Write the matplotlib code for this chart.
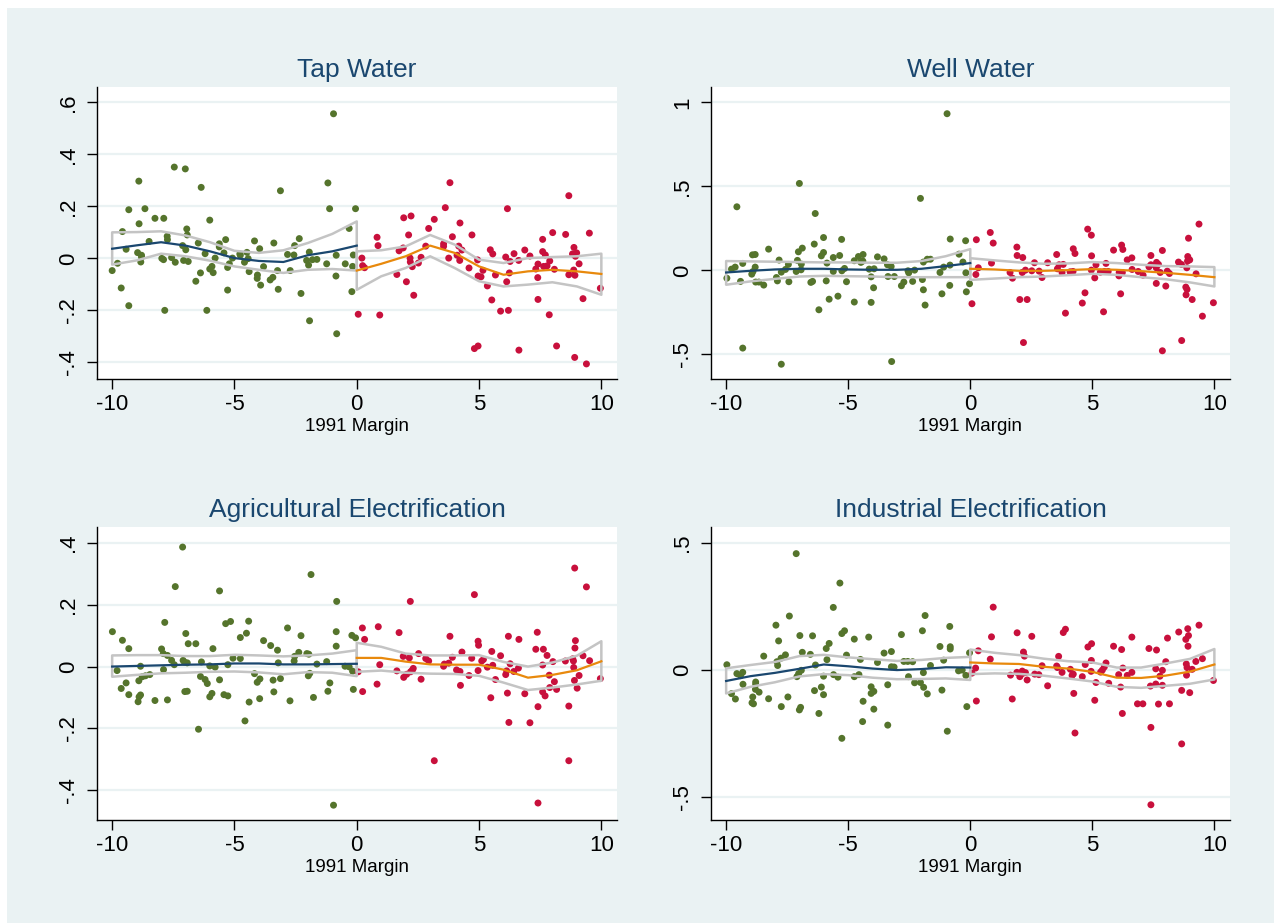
import matplotlib
matplotlib.use('Agg')
import matplotlib.pyplot as plt
import numpy as np

plt.rcParams['font.family'] = ['Liberation Sans', 'DejaVu Sans']

# grid of x values where the local fits and bands are evaluated
xl = np.arange(-10, 1)
xr = np.arange(0, 11)

# ---------------- Tap Water ----------------
tap_left = [(-0.95, 0.556), (-7.46, 0.351), (-7.01, 0.344), (-8.91, 0.297), (-6.36, 0.273), (-3.12, 0.260),
            (-1.18, 0.290), (-9.32, 0.187), (-8.66, 0.191), (-1.11, 0.191), (-0.05, 0.191), (-8.90, 0.133),
            (-8.25, 0.154), (-7.89, 0.154), (-6.01, 0.147), (-9.58, 0.103), (-6.95, 0.113), (-6.93, 0.090),
            (-7.75, 0.085), (-7.74, 0.072), (-8.49, 0.065), (-9.43, 0.035), (-8.96, 0.022), (-8.80, 0.012),
            (-8.80, 0.005), (-8.83, -0.014), (-9.78, -0.019), (-10.0, -0.047), (-7.97, 0.0), (-7.90, -0.005),
            (-7.57, 0.003), (-7.42, -0.015), (-7.12, 0.049), (-6.99, 0.033), (-7.08, -0.008), (-6.89, -0.012),
            (-6.48, 0.059), (-6.20, 0.018), (-5.79, 0.001), (-5.62, 0.056), (-5.62, 0.044), (-5.36, 0.072),
            (-5.43, 0.021), (-5.08, 0.001), (-4.78, 0.017), (-4.76, 0.012), (-4.49, 0.023), (-4.44, -0.001),
            (-4.59, -0.015), (-4.18, 0.067), (-3.97, 0.037), (-3.39, 0.059), (-2.35, 0.076), (-2.54, 0.049),
            (-2.83, 0.015), (-2.57, 0.013), (-1.94, 0.024), (-2.05, -0.008), (-1.81, -0.005), (-1.63, -0.004),
            (-1.97, -0.026), (-1.23, -0.021), (-0.84, 0.012), (-0.31, 0.115), (-0.14, 0.013), (-0.47, -0.021),
            (-0.17, -0.031), (-6.39, -0.056), (-6.01, -0.041), (-5.92, -0.031), (-5.87, -0.055), (-5.28, -0.035),
            (-5.21, -0.021), (-4.40, -0.051), (-4.06, -0.064), (-4.07, -0.077), (-3.93, -0.103), (-3.81, -0.032),
            (-3.54, -0.083), (-3.43, -0.073), (-3.24, -0.047), (-2.72, -0.047), (-3.21, -0.119), (-5.28, -0.122),
            (-6.58, -0.088), (-9.63, -0.114), (-9.32, -0.182), (-7.85, -0.200), (-6.13, -0.200), (-2.28, -0.135),
            (-1.93, -0.240), (-0.82, -0.290), (-0.85, -0.068), (-0.20, -0.128)]
tap_right = [(3.81, 0.291), (8.67, 0.241), (3.62, 0.195), (6.16, 0.191), (1.92, 0.156), (2.22, 0.163),
             (3.17, 0.150), (4.22, 0.136), (2.94, 0.115), (4.71, 0.090), (8.01, 0.099), (8.54, 0.092),
             (9.51, 0.097), (7.60, 0.073), (2.12, 0.090), (3.91, 0.083), (0.83, 0.081), (0.87, 0.049),
             (3.55, 0.056), (3.55, 0.046), (4.17, 0.047), (4.30, 0.032), (1.90, 0.040), (1.73, 0.029),
             (2.82, 0.047), (5.46, 0.033), (5.56, 0.017), (6.87, 0.032), (6.43, 0.018), (7.08, 0.009),
             (7.60, 0.026), (7.71, 0.013), (8.88, 0.042), (8.82, 0.017), (8.99, 0.021), (8.94, 0.008),
             (4.10, 0.012), (3.76, 0.001), (4.21, -0.008), (2.63, 0.004), (2.18, 0.001), (2.19, -0.014),
             (2.27, -0.032), (2.52, -0.018), (0.21, 0.001), (0.24, -0.028), (0.32, -0.036), (4.94, -0.006),
             (5.16, -0.046), (6.09, 0.005), (6.27, -0.012), (6.62, -0.008), (7.41, -0.022), (7.32, -0.041),
             (7.64, -0.031), (7.78, -0.029), (7.89, -0.010), (8.08, -0.042), (9.09, -0.021), (8.87, -0.045),
             (8.67, -0.063), (8.92, -0.065), (4.59, -0.037), (4.96, -0.068), (5.08, -0.071), (5.67, -0.064),
             (6.24, -0.056), (6.13, -0.090), (7.40, -0.074), (5.34, -0.106), (1.64, -0.062), (2.03, -0.090),
             (2.33, -0.142), (5.52, -0.160), (7.41, -0.158), (9.25, -0.155), (9.96, -0.115), (0.06, -0.215),
             (0.94, -0.218), (5.88, -0.203), (6.20, -0.200), (7.87, -0.217), (4.81, -0.347), (4.96, -0.337),
             (6.63, -0.353), (8.17, -0.337), (8.91, -0.381), (9.39, -0.406)]
tap_fit_l = [0.037, 0.050, 0.062, 0.049, 0.027, 0.001, -0.010, -0.014, 0.012, 0.027, 0.049]
tap_hi_l = [0.100, 0.101, 0.104, 0.088, 0.062, 0.029, 0.021, 0.031, 0.059, 0.094, 0.142]
tap_lo_l = [-0.024, -0.008, 0.018, 0.008, -0.009, -0.031, -0.044, -0.056, -0.044, -0.041, -0.047]
tap_fit_r = [-0.047, -0.021, 0.008, 0.049, 0.021, -0.031, -0.063, -0.050, -0.044, -0.050, -0.060]
tap_hi_r = [0.027, 0.031, 0.046, 0.090, 0.053, -0.005, -0.018, 0.001, 0.005, 0.008, 0.018]
tap_lo_r = [-0.121, -0.069, -0.037, 0.008, -0.037, -0.088, -0.108, -0.101, -0.092, -0.108, -0.140]

# ---------------- Well Water ----------------
well_left = [(-0.95, 0.933), (-7.0, 0.518), (-9.56, 0.379), (-6.35, 0.339), (-2.04, 0.429), (-6.01, 0.196),
             (-6.39, 0.157), (-5.27, 0.185), (-0.82, 0.187), (-0.19, 0.177), (-8.26, 0.127), (-8.92, 0.093),
             (-8.81, 0.095), (-7.04, 0.111), (-6.88, 0.133), (-6.10, 0.087), (-6.01, 0.107), (-5.61, 0.077),
             (-5.35, 0.089), (-7.83, 0.062), (-9.32, 0.042), (-9.78, 0.008), (-9.63, 0.020), (-9.97, -0.046),
             (-9.41, -0.065), (-8.81, 0.020), (-8.95, -0.022), (-8.90, -0.006), (-8.79, -0.069), (-8.66, -0.069),
             (-8.46, -0.087), (-7.94, -0.042), (-7.90, -0.062), (-7.74, -0.010), (-7.57, 0.006), (-7.45, 0.036),
             (-7.43, -0.067), (-7.08, 0.060), (-6.92, 0.038), (-7.13, -0.006), (-6.93, 0.004), (-6.53, -0.071),
             (-6.46, -0.065), (-5.87, 0.044), (-5.90, -0.062), (-5.61, -0.006), (-5.26, -0.002), (-5.15, 0.012),
             (-5.07, -0.067), (-4.75, 0.058), (-4.58, 0.083), (-4.39, 0.095), (-4.48, 0.048), (-4.40, 0.056),
             (-4.14, 0.008), (-3.94, 0.010), (-3.80, 0.081), (-3.53, 0.069), (-3.39, 0.034), (-3.24, 0.024),
             (-4.06, -0.038), (-3.96, -0.103), (-3.37, -0.036), (-3.11, -0.036), (-2.82, -0.091), (-2.72, -0.069),
             (-2.55, -0.002), (-2.52, -0.014), (-2.36, -0.065), (-2.28, 0.002), (-1.92, 0.050), (-1.76, 0.067),
             (-1.63, 0.067), (-1.96, -0.054), (-1.92, -0.115), (-1.85, -0.206), (-1.24, -0.012), (-1.09, 0.020),
             (-0.83, 0.032), (-0.46, 0.097), (-0.30, 0.050), (-0.18, -0.014), (-1.16, -0.139), (-0.84, -0.089),
             (-0.16, -0.127), (-0.03, -0.079), (-5.78, -0.171), (-5.42, -0.153), (-6.20, -0.234), (-4.75, -0.188),
             (-4.06, -0.190), (-9.32, -0.462), (-7.74, -0.558), (-3.22, -0.542)]
well_right = [(9.37, 0.276), (4.81, 0.246), (4.96, 0.210), (0.82, 0.226), (0.94, 0.163), (0.25, 0.183),
              (8.94, 0.192), (1.91, 0.139), (1.92, 0.089), (2.15, 0.077), (4.22, 0.129), (4.29, 0.101),
              (3.54, 0.095), (4.97, 0.087), (5.87, 0.121), (6.20, 0.151), (6.25, 0.125), (6.43, 0.063),
              (6.62, 0.075), (7.40, 0.089), (7.87, 0.119), (8.91, 0.083), (8.99, 0.063), (8.90, 0.056),
              (8.53, 0.050), (8.65, 0.036), (8.87, 0.016), (0.87, 0.044), (0.33, 0.016), (0.23, -0.024),
              (2.63, 0.046), (3.17, 0.046), (3.64, 0.034), (3.81, 0.036), (3.57, 0.010), (3.76, -0.012),
              (4.09, -0.008), (4.21, -0.006), (5.15, 0.034), (5.56, 0.042), (4.96, 0.002), (5.33, -0.010),
              (5.50, -0.006), (5.65, -0.006), (5.10, -0.044), (6.10, -0.012), (6.23, -0.012), (6.09, -0.032),
              (6.63, 0.006), (6.88, -0.006), (7.08, -0.028), (7.32, 0.022), (7.40, 0.034), (7.63, 0.048),
              (7.71, 0.036), (7.62, 0.016), (7.78, -0.012), (8.07, -0.004), (8.16, -0.018), (9.25, -0.020),
              (1.63, -0.012), (1.73, -0.046), (2.13, -0.012), (2.26, 0.002), (2.52, -0.002), (2.82, -0.004),
              (2.94, -0.042), (7.62, -0.077), (8.01, -0.093), (8.83, -0.099), (8.88, -0.113), (8.84, -0.145),
              (9.09, -0.173), (9.96, -0.192), (9.51, -0.272), (0.07, -0.198), (2.03, -0.173), (2.33, -0.173),
              (4.70, -0.133), (4.59, -0.194), (3.90, -0.254), (5.46, -0.246), (6.16, -0.139), (2.18, -0.429),
              (8.66, -0.417), (7.87, -0.478)]
well_fit_l = [-0.012, -0.002, 0.006, 0.010, 0.010, 0.006, 0.004, 0.004, 0.010, 0.026, 0.044]
well_hi_l = [0.056, 0.054, 0.052, 0.050, 0.048, 0.048, 0.046, 0.046, 0.056, 0.085, 0.127]
well_lo_l = [-0.085, -0.065, -0.050, -0.036, -0.032, -0.034, -0.036, -0.040, -0.040, -0.040, -0.040]
well_fit_r = [0.010, 0.006, -0.002, -0.002, 0.002, 0.008, 0.004, -0.004, -0.014, -0.026, -0.040]
well_hi_r = [0.073, 0.060, 0.048, 0.040, 0.042, 0.050, 0.044, 0.034, 0.026, 0.024, 0.020]
well_lo_r = [-0.056, -0.048, -0.040, -0.036, -0.028, -0.020, -0.026, -0.040, -0.052, -0.071, -0.095]

# ---------------- Agricultural Electrification ----------------
agri_left = [(-7.12, 0.387), (-7.42, 0.259), (-5.61, 0.245), (-1.87, 0.298), (-0.82, 0.211), (-9.99, 0.113),
             (-9.58, 0.085), (-9.32, 0.058), (-7.85, 0.143), (-6.99, 0.107), (-6.89, 0.074), (-6.58, 0.074),
             (-5.36, 0.139), (-5.16, 0.146), (-4.42, 0.147), (-4.51, 0.108), (-4.76, 0.094), (-5.88, 0.058),
             (-3.81, 0.084), (-3.52, 0.068), (-3.24, 0.053), (-2.83, 0.125), (-2.28, 0.100), (-0.84, 0.113),
             (-0.84, 0.066), (-0.20, 0.101), (-0.05, 0.093), (-7.98, 0.057), (-7.91, 0.042), (-7.74, 0.036),
             (-7.57, 0.020), (-7.46, 0.006), (-7.10, 0.020), (-7.04, 0.014), (-6.93, 0.012), (-6.35, 0.015),
             (-6.01, 0.002), (-5.79, -0.002), (-5.27, 0.006), (-5.06, 0.027), (-4.76, 0.026), (-3.21, 0.012),
             (-2.54, 0.033), (-2.56, 0.018), (-2.37, 0.046), (-2.04, 0.042), (-1.96, 0.040), (-1.63, 0.008),
             (-1.23, 0.016), (-0.48, 0.001), (-0.31, -0.001), (-0.17, -0.015), (-9.80, -0.013), (-8.84, 0.001),
             (-7.90, -0.010), (-8.46, -0.026), (-8.64, -0.030), (-8.77, -0.033), (-8.91, -0.046), (-9.43, -0.053),
             (-9.63, -0.071), (-9.32, -0.091), (-8.90, -0.098), (-8.84, -0.092), (-8.94, -0.114), (-8.25, -0.110),
             (-7.74, -0.108), (-7.03, -0.081), (-6.93, -0.080), (-6.39, -0.032), (-6.20, -0.042), (-6.11, -0.055),
             (-5.92, -0.087), (-6.01, -0.098), (-5.61, -0.043), (-5.43, -0.091), (-5.27, -0.095), (-4.18, -0.023),
             (-3.96, -0.040), (-4.07, -0.051), (-3.42, -0.044), (-3.12, -0.039), (-3.39, -0.082), (-4.40, -0.115),
             (-3.97, -0.104), (-2.73, -0.111), (-1.98, -0.030), (-1.92, -0.022), (-1.77, -0.100), (-1.10, -0.053),
             (-1.18, -0.080), (-0.14, -0.074), (-4.57, -0.176), (-6.47, -0.203), (-0.95, -0.449)]
agri_right = [(8.91, 0.319), (9.39, 0.258), (2.19, 0.211), (4.81, 0.233), (0.23, 0.125), (0.88, 0.129),
              (0.32, 0.088), (1.73, 0.110), (3.81, 0.098), (4.96, 0.082), (4.98, 0.069), (6.20, 0.098),
              (6.63, 0.088), (7.38, 0.111), (7.32, 0.056), (7.63, 0.056), (7.78, 0.036), (8.94, 0.084),
              (8.92, 0.060), (9.25, 0.035), (9.52, 0.019), (8.83, 0.025), (8.86, 0.018), (8.53, 0.018),
              (8.02, 0.016), (7.60, 0.005), (1.90, 0.033), (2.15, 0.028), (2.53, 0.042), (2.82, 0.026),
              (2.94, 0.018), (3.91, 0.030), (4.30, 0.047), (4.70, 0.027), (5.11, 0.018), (5.18, 0.023),
              (5.52, 0.049), (5.88, 0.035), (0.94, 0.006), (0.06, -0.017), (1.64, -0.014), (2.31, -0.006),
              (2.27, -0.012), (2.20, -0.017), (2.04, -0.025), (1.92, -0.035), (3.55, 0.001), (3.58, 0.008),
              (3.76, 0.011), (4.08, -0.011), (4.22, -0.016), (4.59, -0.029), (4.96, -0.013), (5.34, -0.002),
              (5.56, 0.004), (6.27, 0.009), (6.13, -0.014), (6.09, -0.026), (6.42, -0.016), (6.61, -0.005),
              (7.87, -0.028), (8.08, -0.049), (7.89, -0.068), (8.17, -0.074), (7.60, -0.082), (7.70, -0.095),
              (8.87, -0.003), (8.90, -0.045), (9.09, -0.029), (9.01, -0.070), (9.96, -0.039), (2.63, -0.041),
              (5.67, -0.042), (4.24, -0.061), (0.83, -0.057), (0.24, -0.081), (5.48, -0.101), (6.16, -0.086),
              (6.87, -0.088), (7.41, -0.130), (8.67, -0.128), (6.22, -0.181), (7.08, -0.182), (3.17, -0.305),
              (8.67, -0.305), (7.41, -0.442)]
agri_fit_l = [0.000, 0.002, 0.004, 0.006, 0.007, 0.010, 0.010, 0.007, 0.007, 0.008, 0.009]
agri_hi_l = [0.036, 0.037, 0.037, 0.034, 0.034, 0.038, 0.036, 0.033, 0.036, 0.042, 0.053]
agri_lo_l = [-0.033, -0.027, -0.022, -0.020, -0.017, -0.016, -0.019, -0.025, -0.018, -0.020, -0.031]
agri_fit_r = [0.028, 0.028, 0.016, 0.007, 0.006, 0.006, -0.010, -0.036, -0.027, -0.012, 0.017]
agri_hi_r = [0.077, 0.064, 0.042, 0.036, 0.036, 0.037, 0.015, 0.000, 0.013, 0.035, 0.082]
agri_lo_r = [-0.017, -0.013, -0.020, -0.023, -0.024, -0.030, -0.052, -0.076, -0.068, -0.058, -0.046]

# ---------------- Industrial Electrification ----------------
ind_left = [(-7.13, 0.459), (-5.34, 0.343), (-5.61, 0.247), (-7.41, 0.213), (-1.85, 0.215), (-7.96, 0.177),
            (-1.96, 0.155), (-0.84, 0.172), (-7.85, 0.115), (-6.98, 0.136), (-6.46, 0.135), (-5.26, 0.144),
            (-5.15, 0.155), (-4.75, 0.122), (-4.16, 0.130), (-2.82, 0.140), (-5.78, 0.105), (-5.90, 0.085),
            (-8.46, 0.055), (-7.92, 0.033), (-7.75, 0.047), (-7.57, 0.060), (-7.89, 0.018), (-6.88, 0.070),
            (-6.55, 0.062), (-6.34, 0.020), (-5.87, 0.041), (-5.07, 0.059), (-4.50, 0.042), (-3.80, 0.030),
            (-3.53, 0.067), (-3.23, 0.073), (-3.23, 0.013), (-3.12, 0.012), (-2.72, 0.034), (-2.56, 0.034),
            (-2.36, 0.033), (-1.24, 0.093), (-0.82, 0.092), (-0.82, 0.083), (-1.09, 0.039), (-1.63, 0.018),
            (-1.92, -0.010), (-0.03, 0.068), (-9.97, 0.021), (-9.56, -0.014), (-9.41, -0.022), (-9.32, -0.009),
            (-9.31, -0.056), (-8.79, -0.047), (-8.79, -0.056), (-8.80, -0.076), (-8.65, -0.087), (-9.78, -0.093),
            (-9.62, -0.114), (-8.91, -0.106), (-8.94, -0.129), (-8.88, -0.133), (-8.26, -0.113), (-7.74, -0.144),
            (-7.47, -0.106), (-7.10, -0.026), (-7.03, -0.014), (-6.92, -0.001), (-7.00, -0.157), (-6.95, -0.147),
            (-6.20, -0.171), (-6.10, -0.067), (-6.38, -0.081), (-6.01, -0.097), (-6.01, -0.024), (-5.60, -0.018),
            (-5.42, -0.028), (-4.75, -0.026), (-4.56, -0.018), (-4.06, -0.066), (-3.95, -0.084), (-4.06, -0.092),
            (-4.39, -0.123), (-3.95, -0.154), (-4.41, -0.203), (-3.38, -0.058), (-3.38, -0.217), (-5.26, -0.269),
            (-2.53, -0.026), (-2.28, -0.050), (-2.04, -0.049), (-1.91, -0.068), (-1.76, -0.094), (-1.16, -0.079),
            (-0.94, -0.241), (-0.48, -0.003), (-0.33, 0.000), (-0.18, -0.021), (-0.14, -0.144)]
ind_right = [(0.94, 0.248), (9.37, 0.177), (0.87, 0.131), (1.92, 0.147), (2.52, 0.133), (3.81, 0.148),
             (3.90, 0.161), (4.82, 0.091), (4.97, 0.104), (5.87, 0.094), (6.20, 0.081), (6.62, 0.130),
             (7.32, 0.085), (7.63, 0.079), (8.08, 0.126), (8.54, 0.150), (8.91, 0.163), (8.94, 0.136),
             (8.83, 0.121), (8.92, 0.094), (0.33, 0.076), (0.82, 0.043), (2.18, 0.071), (2.22, 0.055),
             (3.62, 0.054), (4.96, 0.038), (4.71, 0.022), (5.56, 0.028), (5.49, 0.012), (5.41, 0.000),
             (6.25, 0.008), (8.01, 0.033), (9.51, 0.045), (9.24, 0.034), (8.85, 0.024), (9.09, 0.003),
             (8.88, 0.010), (8.86, -0.020), (7.60, 0.005), (7.87, -0.001), (0.22, 0.008), (0.07, -0.012),
             (2.94, 0.017), (3.54, 0.016), (3.57, 0.010), (4.10, 0.003), (1.65, -0.020), (1.91, -0.009),
             (2.13, -0.004), (2.13, -0.014), (2.03, -0.026), (2.26, -0.010), (2.33, -0.039), (2.64, -0.016),
             (2.81, -0.018), (3.76, -0.009), (4.17, -0.021), (4.22, -0.016), (4.59, -0.026), (4.95, -0.005),
             (5.34, -0.008), (6.08, -0.018), (6.43, -0.021), (6.62, -0.009), (7.77, -0.024), (5.15, -0.049),
             (5.67, -0.052), (6.16, -0.067), (7.38, -0.063), (7.60, -0.055), (7.87, -0.060), (3.17, -0.062),
             (4.24, -0.092), (5.10, -0.119), (1.72, -0.114), (0.25, -0.122), (8.66, -0.080), (8.99, -0.089),
             (6.85, -0.133), (7.07, -0.133), (7.71, -0.134), (8.16, -0.133), (6.23, -0.171), (4.29, -0.248),
             (7.40, -0.226), (8.66, -0.291), (7.40, -0.531), (9.96, -0.041)]
ind_fit_l = [-0.043, -0.024, -0.011, 0.005, 0.022, 0.015, 0.006, 0.000, 0.004, 0.011, 0.010]
ind_hi_l = [0.007, 0.020, 0.032, 0.055, 0.060, 0.050, 0.043, 0.036, 0.040, 0.048, 0.052]
ind_lo_l = [-0.092, -0.066, -0.048, -0.025, -0.016, -0.020, -0.030, -0.036, -0.035, -0.033, -0.039]
ind_fit_r = [0.030, 0.026, 0.024, 0.013, 0.006, -0.007, -0.030, -0.031, -0.022, -0.006, 0.022]
ind_hi_r = [0.081, 0.068, 0.059, 0.045, 0.035, 0.030, 0.010, 0.010, 0.026, 0.044, 0.083]
ind_lo_r = [-0.016, -0.013, -0.015, -0.022, -0.033, -0.045, -0.066, -0.070, -0.062, -0.054, -0.037]

panels = [
    ('Tap Water', tap_left, tap_right, tap_fit_l, tap_hi_l, tap_lo_l, tap_fit_r, tap_hi_r, tap_lo_r,
     [-0.4, -0.2, 0, 0.2, 0.4, 0.6], ['-.4', '-.2', '0', '.2', '.4', '.6'], (-0.464, 0.659)),
    ('Well Water', well_left, well_right, well_fit_l, well_hi_l, well_lo_l, well_fit_r, well_hi_r, well_lo_r,
     [-0.5, 0, 0.5, 1], ['-.5', '0', '.5', '1'], (-0.646, 1.092)),
    ('Agricultural Electrification', agri_left, agri_right, agri_fit_l, agri_hi_l, agri_lo_l,
     agri_fit_r, agri_hi_r, agri_lo_r,
     [-0.4, -0.2, 0, 0.2, 0.4], ['-.4', '-.2', '0', '.2', '.4'], (-0.497, 0.452)),
    ('Industrial Electrification', ind_left, ind_right, ind_fit_l, ind_hi_l, ind_lo_l,
     ind_fit_r, ind_hi_r, ind_lo_r,
     [-0.5, 0, 0.5], ['-.5', '0', '.5'], (-0.591, 0.564)),
]

bg = '#eaf2f3'
green = '#55742c'
red = '#c8103c'
navy = '#1a476f'
orange = '#e8890c'
band = '#c4c4c4'

W, H = 1274, 923
fig = plt.figure(figsize=(W / 100, H / 100), dpi=100, facecolor='white')
fig.patches.append(plt.Rectangle((7 / W, 0), 1 - 7 / W, 1 - 8 / H, transform=fig.transFigure,
                                 facecolor=bg, edgecolor='none', zorder=-10))

# axes boxes in pixels: left, top, right, bottom
boxes = [(97, 87, 617, 379), (711, 87, 1230, 379), (97, 527, 617, 820), (711, 527, 1230, 820)]

for box, p in zip(boxes, panels):
    title, left, right, fl, hl, ll, fr, hr, lr, yt, ytl, ylim = p
    x0, y0, x1, y1 = box
    ax = fig.add_axes([x0 / W, 1 - y1 / H, (x1 - x0) / W, (y1 - y0) / H])
    ax.set_facecolor('white')

    for y in yt:
        ax.axhline(y, color=bg, lw=1.6, zorder=0)

    lp = np.array(left)
    rp = np.array(right)
    ax.scatter(lp[:, 0], lp[:, 1], s=25, color=green, edgecolors='none', zorder=2)
    ax.scatter(rp[:, 0], rp[:, 1], s=25, color=red, edgecolors='none', zorder=2)

    ax.fill_between(xl, ll, hl, facecolor='none', edgecolor=band, lw=1.8, zorder=3)
    ax.fill_between(xr, lr, hr, facecolor='none', edgecolor=band, lw=1.8, zorder=3)
    ax.plot(xl, fl, color=navy, lw=1.6, zorder=4)
    ax.plot(xr, fr, color=orange, lw=1.6, zorder=4)

    ax.set_xlim(-10.62, 10.64)
    ax.set_ylim(*ylim)
    ax.set_xticks([-10, -5, 0, 5, 10])
    ax.set_xticklabels(['-10', '-5', '0', '5', '10'])
    ax.set_yticks(yt)
    ax.set_yticklabels(ytl, rotation=90, va='center')

    for s in ['top', 'right']:
        ax.spines[s].set_visible(False)
    for s in ['left', 'bottom']:
        ax.spines[s].set_linewidth(1.0)
        ax.spines[s].set_color('black')
    ax.tick_params(axis='both', direction='out', length=7, width=1.0, labelsize=16, colors='black')
    ax.tick_params(axis='x', pad=4)
    ax.tick_params(axis='y', pad=6)

    ax.set_xlabel('1991 Margin', fontsize=13.5, labelpad=2)
    ax.set_title(title, fontsize=19, color=navy, pad=7)

fig.savefig('out.png', dpi=100, facecolor=fig.get_facecolor())
